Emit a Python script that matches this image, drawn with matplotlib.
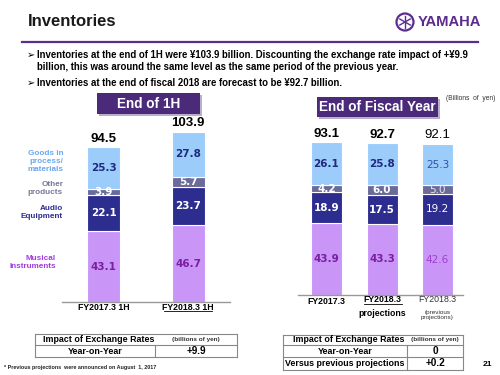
import numpy as np
import matplotlib
matplotlib.use("Agg")
import matplotlib.pyplot as plt
from matplotlib.patches import Rectangle, Ellipse
from matplotlib.lines import Line2D

# ── Data (billions of yen) ───────────────────────────────────────────────────
H1_LABELS   = ["FY2017.3 1H", "FY2018.3 1H"]
H1_MUSICAL  = [43.1, 46.7]
H1_AUDIO    = [22.1, 23.7]
H1_OTHER    = [3.9, 5.7]
H1_GOODS    = [25.3, 27.8]
H1_TOTAL    = [94.5, 103.9]

FY_LABELS   = ["FY2017.3", "FY2018.3", "FY2018.3"]
FY_MUSICAL  = [43.9, 43.3, 42.6]
FY_AUDIO    = [18.9, 17.5, 19.2]
FY_OTHER    = [4.2, 6.0, 5.0]
FY_GOODS    = [26.1, 25.8, 25.3]
FY_TOTAL    = [93.1, 92.7, 92.1]

SEG_NAMES   = ["Musical\nInstruments", "Audio\nEquipment", "Other\nproducts",
               "Goods in\nprocess/\nmaterials"]

C_MUS, C_AUD, C_OTH, C_GDS = "#C996F7", "#2D2D8F", "#6B6B9A", "#9CCCFA"
PURPLE = "#5B2C8F"
SANS = ["Liberation Sans", "DejaVu Sans"]
VAL = ["DejaVu Sans"]

W, H = 500, 375
fig = plt.figure(figsize=(5, 3.75), dpi=100)

def P(x, y):
    return x / W, 1 - y / H

def ftext(x, y, s, **kw):
    kw.setdefault("family", SANS)
    fig.text(*P(x, y), s, **kw)

def fline(x0, y0, x1, y1, **kw):
    fig.add_artist(Line2D([x0 / W, x1 / W], [1 - y0 / H, 1 - y1 / H],
                          transform=fig.transFigure, **kw))

# ── Header ───────────────────────────────────────────────────────────────────
ftext(28, 22, "Inventories", fontsize=12, weight="bold", va="center",
      color="#1A1A1A")
ftext(418, 22, "YAMAHA", fontsize=10.6, weight="bold", va="center",
      color=PURPLE, family=["Liberation Sans Narrow", "Liberation Sans"])
fig.add_artist(Ellipse(P(405, 22), 17 / W, 17 / H, fill=False, ec=PURPLE,
                       lw=1.6, transform=fig.transFigure))
for ang in (90, 210, 330):
    a = np.deg2rad(ang)
    fline(405 - 6 * np.cos(a), 22 + 6 * np.sin(a),
          405 + 6 * np.cos(a), 22 - 6 * np.sin(a), color=PURPLE, lw=1.0)
fline(22, 42, 478, 42, color=PURPLE, lw=1.6)

ftext(27, 55, "➢", fontsize=7, va="center", family=["DejaVu Sans"])
ftext(37, 55, "Inventories at the end of 1H were ¥103.9 billion. Discounting "
      "the exchange rate impact of +¥9.9", fontsize=6.9, weight="bold",
      va="center")
ftext(37, 67, "billion, this was around the same level as the same period of "
      "the previous year.", fontsize=6.9, weight="bold", va="center")
ftext(27, 83, "➢", fontsize=7, va="center", family=["DejaVu Sans"])
ftext(37, 83, "Inventories at the end of fiscal 2018 are forecast to be ¥92.7 "
      "billion.", fontsize=6.9, weight="bold", va="center")
ftext(495, 98, "(Billions  of  yen)", fontsize=4.8, ha="right", va="center",
      color="#333333")

# section title boxes
for (x0, y0, x1, y1, s) in [(97, 93, 200, 114, "End of 1H"),
                            (317, 97, 438, 117, "End of Fiscal Year")]:
    fig.add_artist(Rectangle(P(x0 + 2, y1 + 2), (x1 - x0) / W, (y1 - y0) / H,
                             fc="#B8B0C8", ec="none", transform=fig.transFigure))
    fig.add_artist(Rectangle(P(x0, y1), (x1 - x0) / W, (y1 - y0) / H,
                             fc="#4B2A7A", ec="none", transform=fig.transFigure))
    ftext((x0 + x1) / 2, (y0 + y1) / 2, s, fontsize=9.8, weight="bold",
          color="white", ha="center", va="center")

# ── Stacked bars ─────────────────────────────────────────────────────────────
PX_PER_UNIT = 1.64

def stacked(ax, segs, totals, normal_last=False):
    n = len(totals)
    x = np.arange(n)
    colors = [C_MUS, C_AUD, C_OTH, C_GDS]
    bottom = np.zeros(n)
    for k, (vals, c) in enumerate(zip(segs, colors)):
        vals = np.array(vals)
        ax.bar(x, vals, bottom=bottom, width=ax._bw, color=c,
               edgecolor="white", linewidth=0.8)
        for i in range(n):
            light = normal_last and i == n - 1
            tc = ["#7B1FA2", "white", "white", "#1F2A80"][k]
            if light:
                tc = ["#A040D0", "white", "#E8E8F0", "#3050A8"][k]
            ax.text(i, bottom[i] + vals[i] / 2, f"{vals[i]:.1f}",
                    ha="center", va="center", fontsize=7.5, color=tc,
                    weight="normal" if light else "bold", family=VAL,
                    zorder=5)
        bottom = bottom + vals
    for i in range(n):
        light = normal_last and i == n - 1
        ax.text(i, bottom[i] + 1.5, f"{totals[i]:.1f}", ha="center",
                va="bottom", fontsize=9.5, family=SANS,
                weight="normal" if light else "bold", color="black")

def make_axes(x0, x1, base_y, c0, spacing, bw):
    top_px = 118
    ax = fig.add_axes([x0 / W, 1 - base_y / H, (x1 - x0) / W,
                       (base_y - top_px) / H])
    ax.set_xlim((x0 - c0) / spacing, (x1 - c0) / spacing)
    ax.set_ylim(0, (base_y - top_px) / PX_PER_UNIT)
    ax._bw = bw / spacing
    for s in ("top", "left", "right"):
        ax.spines[s].set_visible(False)
    ax.spines["bottom"].set_color("#999999")
    ax.spines["bottom"].set_linewidth(1.0)
    ax.set_xticks([])
    ax.set_yticks([])
    ax.patch.set_alpha(0)
    return ax

ax1 = make_axes(62, 230, 302, 103.5, 84.5, 33)
stacked(ax1, [H1_MUSICAL, H1_AUDIO, H1_OTHER, H1_GOODS], H1_TOTAL)

ax2 = make_axes(298, 463, 295, 326.5, 55.5, 31)
stacked(ax2, [FY_MUSICAL, FY_AUDIO, FY_OTHER, FY_GOODS], FY_TOTAL,
        normal_last=True)

# segment names (left chart)
for (x, y, s, c) in [(63, 162, SEG_NAMES[3], "#6AA8F0"),
                     (63, 188, SEG_NAMES[2], "#777799"),
                     (63, 212, SEG_NAMES[1], "#2D2D8F"),
                     (56, 263, SEG_NAMES[0], "#A03CE0")]:
    ftext(x, y, s, fontsize=5.9, weight="bold", ha="right", va="center",
          color=c, linespacing=1.2)

# x labels
ftext(103.5, 307, H1_LABELS[0], fontsize=6.3, weight="bold", ha="center",
      va="center")
ftext(188, 307, H1_LABELS[1], fontsize=6.3, weight="bold", ha="center",
      va="center")
fline(164, 311, 212, 311, color="black", lw=0.6)

ftext(326.5, 301, FY_LABELS[0], fontsize=6.3, weight="bold", ha="center",
      va="center")
ftext(382, 300, FY_LABELS[1], fontsize=6.3, weight="bold", ha="center",
      va="center")
fline(364, 304, 402, 304, color="black", lw=0.6)
ftext(382, 313, "projections", fontsize=6.3, weight="bold", ha="center",
      va="center")
ftext(437.5, 300, FY_LABELS[2], fontsize=6.3, ha="center", va="center",
      color="#333333")
ftext(437.5, 315, "(previous\nprojections)", fontsize=4.6, ha="center",
      va="center", color="#333333", linespacing=1.05)

# ── Exchange-rate tables ────────────────────────────────────────────────────
GRID = dict(color="#888888", lw=0.8)

def table(x0, x1, xm, rows_y, head, rows):
    for y in rows_y:
        fline(x0, y, x1, y, **GRID)
    fline(x0, rows_y[0], x0, rows_y[-1], **GRID)
    fline(x1, rows_y[0], x1, rows_y[-1], **GRID)
    fline(xm, rows_y[1], xm, rows_y[-1], **GRID)
    yc = (rows_y[0] + rows_y[1]) / 2
    ftext((x0 + xm) / 2 + 4, yc, head, fontsize=6.4, weight="bold",
          ha="center", va="center")
    ftext((xm + x1) / 2, yc, "(billions of yen)", fontsize=4.6,
          weight="bold", ha="center", va="center", color="#333333")
    for r, (lab, val) in enumerate(rows):
        yc = (rows_y[r + 1] + rows_y[r + 2]) / 2
        ftext((x0 + xm) / 2, yc, lab, fontsize=6.4, weight="bold",
              ha="center", va="center")
        ftext((xm + x1) / 2, yc, val, fontsize=7.2, weight="bold",
              ha="center", va="center")

table(35, 237, 155, [334, 345, 357], "Impact of Exchange Rates",
      [("Year-on-Year", "+9.9")])
table(283, 463, 407, [335, 345, 357, 370], "Impact of Exchange Rates",
      [("Year-on-Year", "0"), ("Versus previous projections", "+0.2")])

ftext(4, 368, "* Previous projections  were announced on August  1, 2017",
      fontsize=3.9, weight="bold", va="center", color="#222222")
ftext(487, 365, "21", fontsize=6, weight="bold", ha="center", va="center")

fig.savefig("out.png", dpi=100)
